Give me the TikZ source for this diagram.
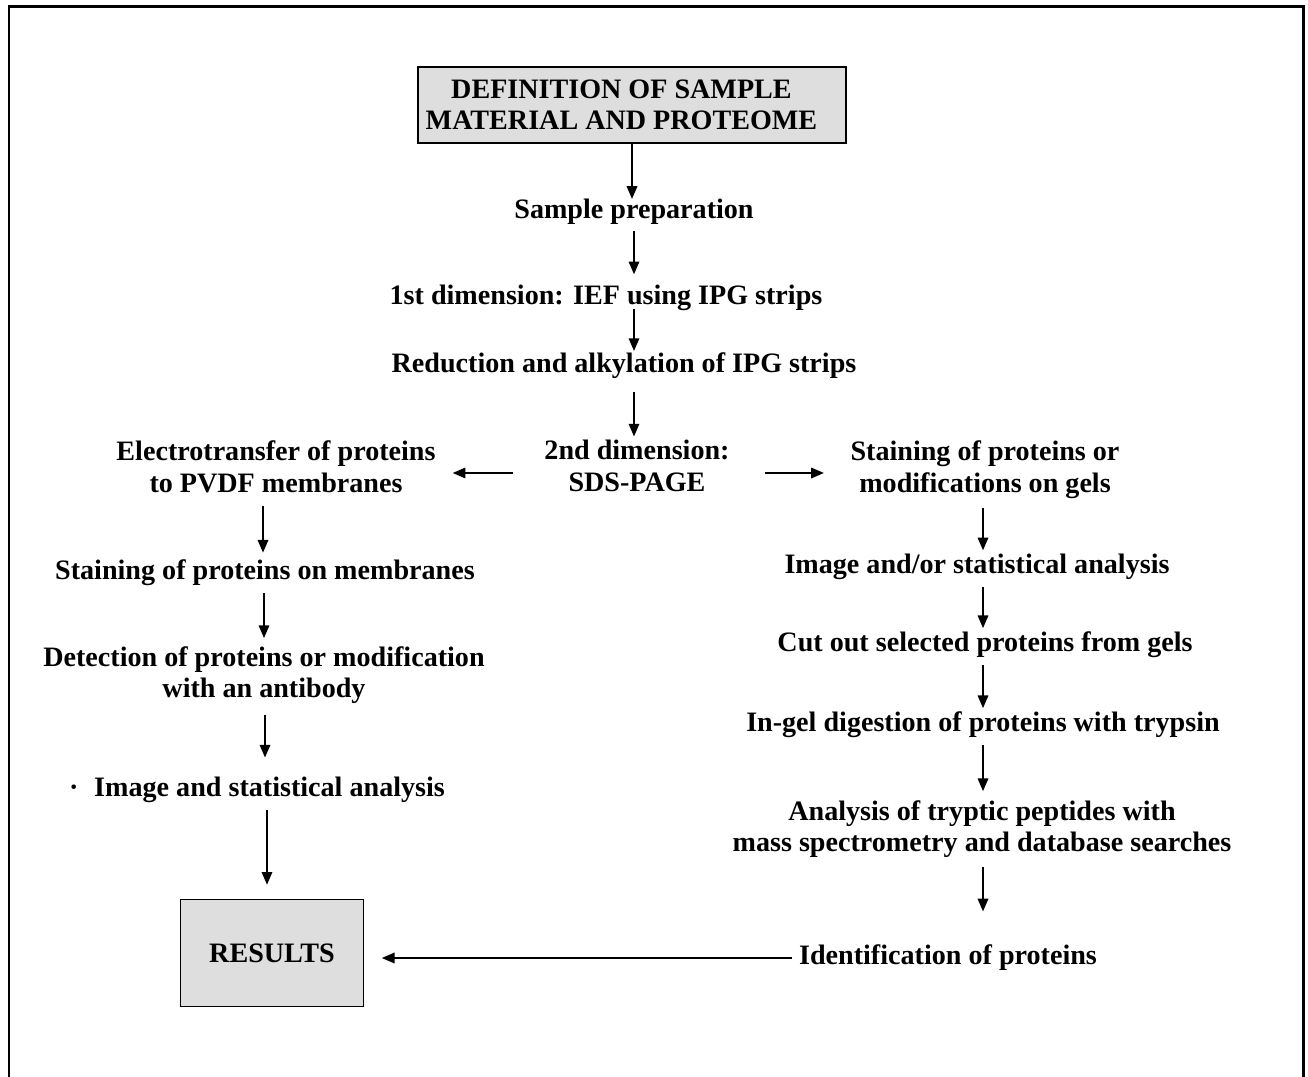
\documentclass[tikz,border=0pt]{standalone}
\usepackage{fontspec}
\setmainfont{Liberation Serif}
\usetikzlibrary{arrows.meta}

\begin{document}
\begin{tikzpicture}[x=0.02cm, y=-0.02cm, >={Triangle[length=7.2pt, width=6pt]}, font=\bfseries\fontsize{16}{18}\selectfont]
    \tikzset{step text/.style={align=center, inner sep=0pt},
             gray box/.style={draw, line width=0.9pt, fill=black!13, align=center, inner sep=0pt},
             arr/.style={->, line width=0.85pt}};
    \useasboundingbox (0, 0) rectangle (1308, 1077);
    \draw[line width=1.7pt] (9, 1077) -- (9, 7) -- (1303, 7) -- (1303, 1077);
    % middle column
    \node[gray box, minimum width=428*0.02cm, minimum height=76*0.02cm] (def) at (632, 105) {DEFINITION OF SAMPLE\hspace*{12pt}\\MATERIAL AND PROTEOME\hspace*{12pt}};
    \node[step text] (prep) at (634, 212) {Sample preparation};
    \node[step text] (ief) at (606, 298) {1st dimension: IEF using IPG strips};
    \node[step text] (red) at (624, 366) {Reduction and alkylation of IPG strips};
    \node[step text] (sds) at (637, 466) {2nd dimension:\\SDS-PAGE};
    % left column
    \node[step text] (elec) at (276, 467) {Electrotransfer of proteins\\to PVDF membranes};
    \node[step text] (stainm) at (265, 573) {Staining of proteins on membranes};
    \node[step text] (detect) at (264, 675) {Detection of proteins or modification\\with an antibody};
    \node[step text] (imgL) at (257, 790) {·\hspace{9pt}Image and statistical analysis};
    \node[gray box, minimum width=183*0.02cm, minimum height=107*0.02cm] (res) at (272, 953) {RESULTS};
    % right column
    \node[step text] (stg) at (985, 470) {Staining of proteins or\\modifications on gels};
    \node[step text] (imgR) at (977, 567) {Image and/or statistical analysis};
    \node[step text] (cut) at (985, 645) {Cut out selected proteins from gels};
    \node[step text] (ingel) at (983, 725) {In-gel digestion of proteins with trypsin};
    \node[step text] (anal) at (982, 829) {Analysis of tryptic peptides with\\mass spectrometry and database searches};
    \node[step text] (ident) at (948, 958) {Identification of proteins};
    % arrows
    \draw[arr] (def.south) -- (def.south |- prep.north);
    \draw[arr, shorten <=3.5pt, shorten >=6pt] (prep.south) -- (prep.south |- ief.north);
    \draw[arr, shorten <=-1pt, shorten >=1pt] (prep.south |- ief.south) -- (prep.south |- red.north);
    \draw[arr, shorten <=7pt, shorten >=2pt] (prep.south |- red.south) -- (prep.south |- sds.north);
    \draw[arr, shorten <=17.5pt, shorten >=9.6pt] (sds.west |- 0, 473) -- (elec.east |- 0, 473);
    \draw[arr, shorten <=20pt, shorten >=15pt] (sds.east |- 0, 473) -- (stg.west |- 0, 473);
    \draw[arr, shorten <=7.5pt, shorten >=4pt] (elec.south -| 263, 0) -- (263, 0 |- stainm.north);
    \draw[arr, shorten <=4pt, shorten >=4.5pt] (stainm.south -| 264, 0) -- (264, 0 |- detect.north);
    \draw[arr, shorten <=6pt, shorten >=11pt] (detect.south -| 265, 0) -- (265, 0 |- imgL.north);
    \draw[arr, shorten <=4pt, shorten >=8pt] (imgL.south -| 267, 0) -- (267, 0 |- res.north);
    \draw[arr, shorten <=5pt, shorten >=2pt] (stg.south -| 983, 0) -- (983, 0 |- imgR.north);
    \draw[arr, shorten <=4pt, shorten >=2pt] (imgR.south -| 983, 0) -- (983, 0 |- cut.north);
    \draw[arr, shorten <=3.5pt, shorten >=2pt] (cut.south -| 983, 0) -- (983, 0 |- ingel.north);
    \draw[arr, shorten <=3.5pt, shorten >=5pt] (ingel.south -| 983, 0) -- (983, 0 |- anal.north);
    \draw[arr, shorten <=5pt, shorten >=19pt] (anal.south -| 983, 0) -- (983, 0 |- ident.north);
    \draw[arr, shorten <=4pt, shorten >=10pt] (ident.west |- 0, 958) -- (res.east |- 0, 958);
\end{tikzpicture}
\end{document}
